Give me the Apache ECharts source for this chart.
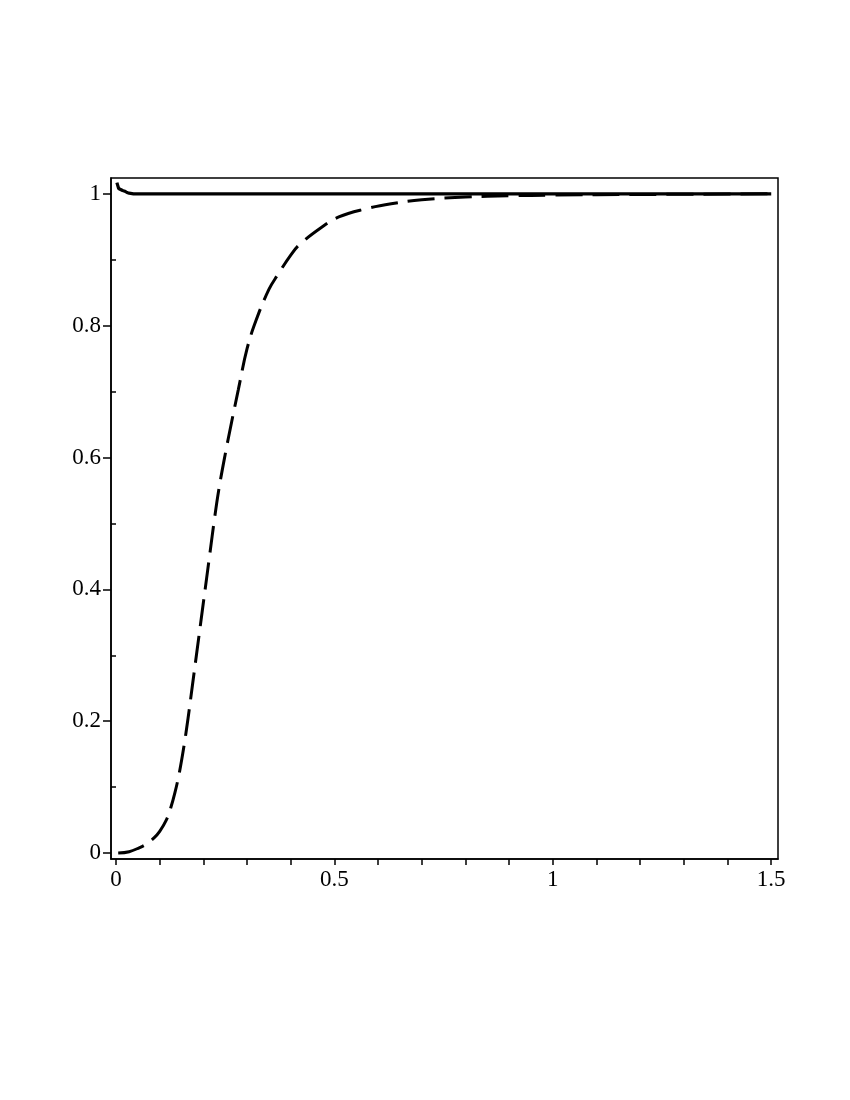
<!DOCTYPE html>
<html>
<head>
<meta charset="utf-8">
<script src="https://cdn.jsdelivr.net/npm/echarts@6/dist/echarts.min.js"></script>
<style>
html,body{margin:0;padding:0;background:#fff;}
#chart{width:850px;height:1100px;}
</style>
</head>
<body>
<div id="chart"></div>
<script>
// Solid curve (x, y)
const solidX = [0.002, 0.006, 0.010, 0.015, 0.020, 0.025, 0.030, 0.040, 0.060, 0.100, 0.500, 1.000, 1.500];
const solidY = [1.017, 1.008, 1.005, 1.005, 1.004, 1.002, 1.001, 1.000, 1.000, 1.000, 1.000, 1.000, 1.000];
// Dashed curve (x, y)
const dashX = [0.005, 0.030, 0.053, 0.070, 0.087, 0.100, 0.115, 0.125, 0.135, 0.145, 0.155, 0.165, 0.175, 0.185, 0.195, 0.205, 0.215, 0.225, 0.235, 0.250, 0.265, 0.280, 0.300, 0.320, 0.350, 0.370, 0.400, 0.420, 0.470, 0.510, 0.570, 0.630, 0.700, 0.800, 0.900, 1.000, 1.200, 1.500];
const dashY = [0.000, 0.002, 0.008, 0.014, 0.023, 0.033, 0.050, 0.068, 0.092, 0.122, 0.160, 0.205, 0.255, 0.305, 0.355, 0.405, 0.455, 0.505, 0.550, 0.605, 0.655, 0.703, 0.765, 0.807, 0.855, 0.877, 0.907, 0.923, 0.949, 0.965, 0.977, 0.985, 0.991, 0.995, 0.997, 0.998, 0.999, 1.000];
// Tick values
const xMajor = [0, 0.5, 1, 1.5];
const xMinor = [0, 0.1, 0.2, 0.3, 0.4, 0.5, 0.6, 0.7, 0.8, 0.9, 1, 1.1, 1.2, 1.3, 1.4, 1.5];
const yMajor = [0, 0.2, 0.4, 0.6, 0.8, 1];
const yMinor = [0.1, 0.3, 0.5, 0.7, 0.9];

const pairs = (xs, ys) => xs.map((x, i) => [x, ys[i]]);
const font = {fontFamily: "'Liberation Serif', 'Times New Roman', Times, serif", fontSize: 23, color: '#000'};
const fmt = v => String(Math.round(v * 10) / 10);

const chart = echarts.init(document.getElementById('chart'), null, {renderer: 'canvas'});
chart.setOption({
  animation: false,
  backgroundColor: '#fff',
  grid: {left: 111, right: 72, top: 178, bottom: 241, show: true, borderColor: '#000', borderWidth: 1.5, containLabel: false},
  xAxis: [
    {type: 'value', min: -0.0115, max: 1.5155, position: 'bottom',
     axisLine: {show: true, onZero: false, lineStyle: {color: '#000', width: 1.5}},
     axisTick: {show: true, inside: false, length: 6, customValues: xMinor, lineStyle: {color: '#000', width: 1.5}},
     splitLine: {show: false},
     axisLabel: Object.assign({margin: 9, customValues: xMajor, formatter: fmt}, font)}
  ],
  yAxis: [
    {type: 'value', min: -0.009, max: 1.024, position: 'left',
     axisLine: {show: true, onZero: false, lineStyle: {color: '#000', width: 1.5}},
     axisTick: {show: true, inside: false, length: 8, customValues: yMajor, lineStyle: {color: '#000', width: 1.5}},
     splitLine: {show: false},
     axisLabel: Object.assign({margin: 10, customValues: yMajor, formatter: fmt}, font)},
    {type: 'value', min: -0.009, max: 1.024, position: 'left',
     axisLine: {show: false},
     axisTick: {show: true, inside: false, length: 5, customValues: yMinor, lineStyle: {color: '#000', width: 1.5}},
     splitLine: {show: false},
     axisLabel: {show: false}}
  ],
  series: [
    {type: 'line', xAxisIndex: 0, yAxisIndex: 0, data: pairs(dashX, dashY), smooth: 0.4, showSymbol: false, clip: false,
     lineStyle: {color: '#000', width: 3, type: [27, 10], cap: 'butt'}},
    {type: 'line', xAxisIndex: 0, yAxisIndex: 0, data: pairs(solidX, solidY), smooth: false, showSymbol: false, clip: false,
     lineStyle: {color: '#000', width: 3.2}}
  ]
});
</script>
</body>
</html>
